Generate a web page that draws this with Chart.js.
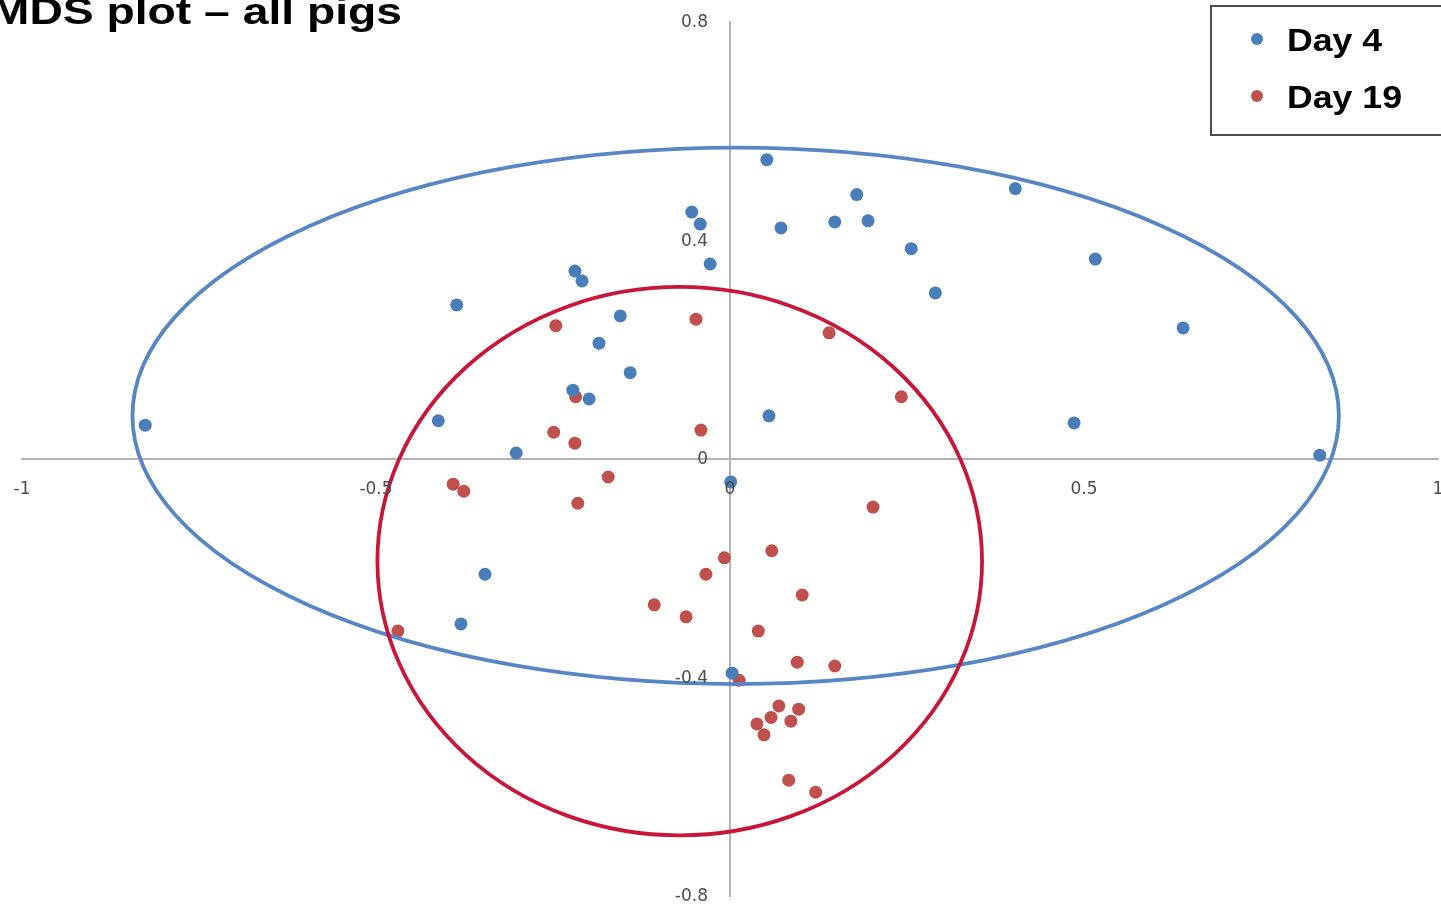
<!DOCTYPE html>
<html>
<head>
<meta charset="utf-8">
<title>MDS plot – all pigs</title>
<script src="https://cdn.jsdelivr.net/npm/chart.js@4/dist/chart.umd.min.js"></script>
<style>
  html, body { margin: 0; padding: 0; background: #fff; overflow: hidden; }
  #wrap { width: 1441px; height: 907px; position: relative; }
</style>
</head>
<body>
<div id="wrap"><canvas id="mds"></canvas></div>
<script>
// ---- data ----
const chartTitle = 'MDS plot – all pigs';
const seriesNames = ['Day 4', 'Day 19'];

const day4X = [0.052, 0.179, 0.403, -0.054, -0.042, 0.072, 0.148, 0.195, 0.256, -0.028,
               -0.219, -0.209, 0.516, 0.290, -0.386, -0.155, 0.640, -0.185, -0.141, -0.222,
               -0.199, 0.055, -0.826, -0.412, 0.486, -0.302, 0.833, 0.001, -0.346, -0.380, 0.003];
const day4Y = [0.548, 0.484, 0.495, 0.452, 0.430, 0.423, 0.434, 0.436, 0.385, 0.357,
               0.344, 0.326, 0.366, 0.304, 0.282, 0.262, 0.240, 0.212, 0.158, 0.126,
               0.110, 0.079, 0.062, 0.070, 0.066, 0.011, 0.007, -0.042, -0.211, -0.302, -0.392];

const day19X = [-0.048, -0.246, 0.140, -0.218, 0.242, -0.249, -0.041, -0.219, -0.172, -0.391,
                -0.376, -0.215, 0.202, -0.008, 0.059, -0.034, 0.102, -0.107, -0.062, 0.040,
                -0.469, 0.095, 0.148, 0.013, 0.069, 0.097, 0.058, 0.038, 0.086, 0.048, 0.083, 0.121];
const day19Y = [0.256, 0.244, 0.231, 0.114, 0.114, 0.049, 0.053, 0.029, -0.033, -0.046,
                -0.059, -0.081, -0.088, -0.181, -0.168, -0.211, -0.249, -0.267, -0.289, -0.315,
                -0.315, -0.372, -0.379, -0.405, -0.452, -0.458, -0.473, -0.485, -0.480, -0.505, -0.588, -0.610];

const xTickValues = [-1, -0.5, 0, 0.5, 1];
const yTickValues = [-0.8, -0.4, 0, 0.4, 0.8];

// group outlines: [centre x, centre y, radius x, radius y] in data units
const day4Ellipse  = [0.008, 0.079, 0.852, 0.491];
const day19Ellipse = [-0.071, -0.187, 0.427, 0.502];

// ---- styling ----
const blueDot = 'rgb(74,126,187)';
const redDot = 'rgb(192,80,77)';
const blueRing = 'rgb(88,134,197)';
const redRing = 'rgb(200,22,58)';
const tickColor = '#4d4d4d';
const tickFont = '17px "DejaVu Sans", sans-serif';

const toPoints = (xs, ys) => xs.map((x, i) => ({ x: x, y: ys[i] }));

// outlines drawn over the markers, positioned through the chart scales
const groupOutlines = {
  id: 'groupOutlines',
  afterDatasetsDraw(chart) {
    const { ctx, scales: { x, y } } = chart;
    const rings = [[day4Ellipse, blueRing], [day19Ellipse, redRing]];
    ctx.save();
    rings.forEach(([e, color]) => {
      const cx = x.getPixelForValue(e[0]);
      const cy = y.getPixelForValue(e[1]);
      const rx = Math.abs(x.getPixelForValue(e[0] + e[2]) - cx);
      const ry = Math.abs(y.getPixelForValue(e[1] + e[3]) - cy);
      ctx.beginPath();
      ctx.ellipse(cx, cy, rx, ry, 0, 0, Math.PI * 2);
      ctx.lineWidth = 3.8;
      ctx.strokeStyle = color;
      ctx.stroke();
    });
    ctx.restore();
  }
};

// tick labels hug the two axes that cross at the origin
const originTickLabels = {
  id: 'originTickLabels',
  afterDraw(chart) {
    const { ctx, scales: { x, y } } = chart;
    const axisX = x.getPixelForValue(0);
    const axisY = y.getPixelForValue(0);
    ctx.save();
    ctx.fillStyle = tickColor;
    ctx.font = tickFont;
    ctx.textBaseline = 'middle';
    ctx.textAlign = 'right';
    yTickValues.forEach(v => ctx.fillText(String(v), axisX - 22, y.getPixelForValue(v) + 1));
    ctx.textAlign = 'center';
    xTickValues.forEach(v => ctx.fillText(String(v), x.getPixelForValue(v), axisY + 31));
    ctx.restore();
  }
};

// heading and boxed legend
const headingAndKey = {
  id: 'headingAndKey',
  afterDraw(chart) {
    const { ctx } = chart;
    ctx.save();
    ctx.fillStyle = '#000';
    ctx.font = 'bold 37px "Liberation Sans", Arial, sans-serif';
    ctx.textAlign = 'right';
    ctx.textBaseline = 'alphabetic';
    ctx.translate(402, 24);
    ctx.scale(1.25, 1);
    ctx.fillText(chartTitle, 0, 0);
    ctx.restore();

    ctx.save();
    ctx.strokeStyle = '#4d4d4d';
    ctx.lineWidth = 2;
    ctx.strokeRect(1211, 6, 240, 129);
    const rows = [51, 108];
    chart.data.datasets.forEach((ds, i) => {
      ctx.beginPath();
      ctx.arc(1257, rows[i] - 12, 6, 0, Math.PI * 2);
      ctx.fillStyle = ds.backgroundColor;
      ctx.fill();
      ctx.save();
      ctx.fillStyle = '#000';
      ctx.font = 'bold 31px "Liberation Sans", Arial, sans-serif';
      ctx.textAlign = 'left';
      ctx.textBaseline = 'alphabetic';
      ctx.translate(1287, rows[i]);
      ctx.scale(1.15, 1);
      ctx.fillText(ds.label, 0, 0);
      ctx.restore();
    });
    ctx.restore();
  }
};

// axes sit on the origin and take no room in the layout
function flatAxis(scale) {
  if (scale.isHorizontal()) scale.height = 0; else scale.width = 0;
  scale.paddingLeft = scale.paddingRight = scale.paddingTop = scale.paddingBottom = 0;
}

new Chart(document.getElementById('mds'), {
  type: 'scatter',
  data: {
    datasets: [
      { label: seriesNames[0], data: toPoints(day4X, day4Y), backgroundColor: blueDot,
        borderWidth: 0, pointRadius: 6.5, pointHoverRadius: 6.5 },
      { label: seriesNames[1], data: toPoints(day19X, day19Y), backgroundColor: redDot,
        borderWidth: 0, pointRadius: 6.5, pointHoverRadius: 6.5 }
    ]
  },
  options: {
    responsive: true,
    maintainAspectRatio: false,
    animation: false,
    layout: { autoPadding: false, padding: { left: 22, right: 3, top: 22, bottom: 11 } },
    plugins: { legend: { display: false }, title: { display: false }, tooltip: { enabled: false } },
    scales: {
      x: {
        type: 'linear', min: -1, max: 1, position: { y: 0 },
        grid: { drawOnChartArea: false, drawTicks: false, color: 'rgba(0,0,0,0)' },
        border: { display: true, color: '#b3b3b3', width: 2 },
        ticks: { display: false },
        afterBuildTicks: s => { s.ticks = xTickValues.map(v => ({ value: v })); },
        afterFit: flatAxis
      },
      y: {
        type: 'linear', min: -0.8, max: 0.8, position: { x: 0 },
        grid: { drawOnChartArea: false, drawTicks: false, color: 'rgba(0,0,0,0)' },
        border: { display: true, color: '#b3b3b3', width: 2 },
        ticks: { display: false },
        afterBuildTicks: s => { s.ticks = yTickValues.map(v => ({ value: v })); },
        afterFit: flatAxis
      }
    }
  },
  plugins: [groupOutlines, originTickLabels, headingAndKey]
});
</script>
</body>
</html>
